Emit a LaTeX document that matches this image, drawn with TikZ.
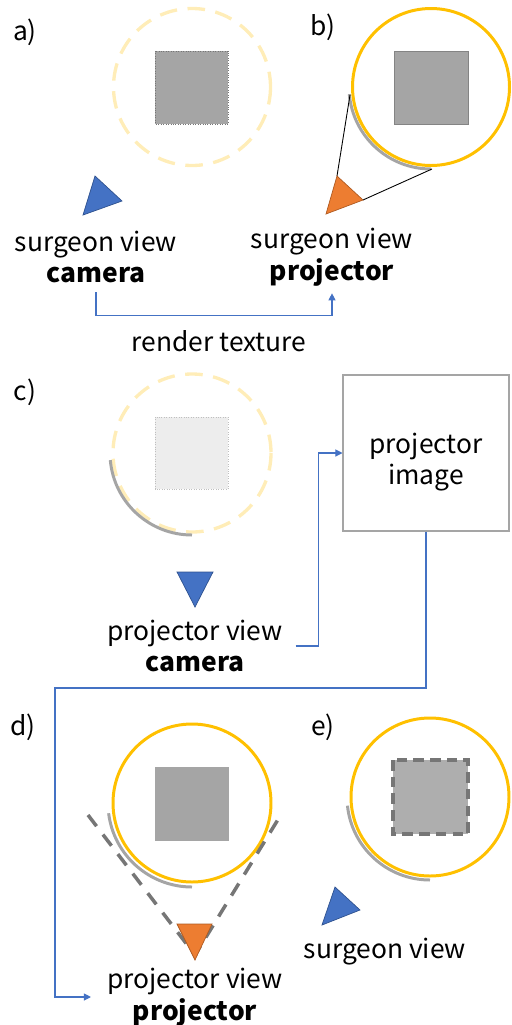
\documentclass[tikz,border=0pt]{standalone}
\usepackage{fontspec}
\setmainfont{Noto Sans CJK JP}
\usetikzlibrary{arrows.meta, positioning, calc}
\definecolor{ViewBlue}{HTML}{4472C4}
\definecolor{ViewBlueDark}{HTML}{2F528F}
\definecolor{ProjOrange}{HTML}{ED7D31}
\definecolor{ProjOrangeDark}{HTML}{AE5A21}
\definecolor{RingGold}{HTML}{FFC000}
\definecolor{ObjGray}{HTML}{A5A5A5}
\definecolor{EdgeGray}{HTML}{767676}

\begin{document}
\begin{tikzpicture}[x=0.02cm, y=-0.02cm,
    lbl/.style={font=\fontsize{15}{18}\selectfont, align=center, inner sep=2pt},
    tag/.style={font=\fontsize{15}{18}\selectfont, inner sep=0pt},
    ring/.style={draw=RingGold, line width=1.7pt},
    ghostring/.style={draw=RingGold!28, line width=1.9pt, dash pattern=on 10pt off 6pt},
    shadowarc/.style={draw=ObjGray, line width=1.7pt},
    obj/.style={fill=ObjGray},
    cam/.style={fill=ViewBlue, draw=ViewBlueDark, line width=0.4pt},
    proj/.style={fill=ProjOrange, draw=ProjOrangeDark, line width=0.4pt},
    frustum/.style={draw=EdgeGray, line width=2pt, dash pattern=on 8pt off 6pt},
    link/.style={draw=ViewBlue, line width=0.6pt, -{Triangle[length=4pt,width=4pt]}}]
\useasboundingbox (0,0) rectangle (511,1025);

% a) surgeon view camera
\node[tag] (tagA) at (25,32) {a)};
\draw[ghostring] (192,87) circle[radius=78.5];
\draw[obj, draw=EdgeGray, line width=0.4pt, densely dotted] (155,51) rectangle (228,124);
\path[cam] (83,215) -- (95,176) -- (122,201) -- cycle;
\node[lbl] (camA) at (96,257) {surgeon view\\\textbf{camera}};

% b) surgeon view projector
\node[tag] (tagB) at (323,27) {b)};
\draw[shadowarc] (431,87) ++(175:82) arc[start angle=175, end angle=90, radius=82];
\draw[ring] (431,87) circle[radius=78.5];
\draw[obj, draw=ObjGray!80!black, line width=0.5pt] (394,51) rectangle (468,124);
\draw[line width=0.5pt] (350,95) -- (337,176);
\draw[line width=0.5pt] (363,200) -- (432,169);
\path[proj] (326,214) -- (337,176) -- (363,200) -- cycle;
\node[lbl] (projB) at (332,257) {surgeon view\\\textbf{projector}};

\draw[link] ([yshift=-3pt]camA.south) -- ++(0,23) -| ([yshift=-2pt]projB.south);
\node[lbl] (rt) at (219,341) {render texture};

% c) projector view camera
\node[tag] (tagC) at (25,392) {c)};
\draw[ghostring] (192,453) circle[radius=79];
\draw[fill=black!7, draw=black!25, line width=0.4pt, densely dotted] (155,417) rectangle (228,489);
\draw[shadowarc] (192,453) ++(175:82) arc[start angle=175, end angle=90, radius=82];
\path[cam] (177,572) -- (213,572) -- (195,607) -- cycle;
\node[lbl] (camC) at (195,646) {projector view\\\textbf{camera}};

\node[lbl, draw=ObjGray, line width=0.6pt, minimum width=3.32cm, minimum height=3.12cm]
  (img) at (426,453) {\rule{0pt}{22pt}projector\\image};
\draw[link, shorten <=5pt] (camC.east) -| ($(img.west)+(-24,0)$) |- (img.west);

% d) projector view projector
\node[tag] (tagD) at (23,727) {d)};
\draw[shadowarc] (192,803) ++(173:84) arc[start angle=173, end angle=90, radius=84];
\draw[ring] (192,803) circle[radius=79];
\fill[ObjGray] (155,767) rectangle (229,841);
\draw[frustum] (88,815) -- (195,955) -- (282,813);
\path[proj] (177,924) -- (212,924) -- (195,960) -- cycle;
\node[lbl] (projD) at (195,997) {projector view\\\textbf{projector}};

\coordinate (turnD) at (55,688);
\draw[link, shorten >=7pt] (img.south) |- (turnD) |- (projD.west);

% e) surgeon view
\node[tag] (tagE) at (323,727) {e)};
\draw[shadowarc] (430,797) ++(174:83) arc[start angle=174, end angle=90, radius=83];
\draw[ring] (430,797) circle[radius=79];
\draw[fill=ObjGray!90, draw=EdgeGray, line width=2pt, dash pattern=on 6pt off 3.5pt] (393,760) rectangle (468,834);
\path[cam] (322,925) -- (335,887) -- (360,910) -- cycle;
\node[lbl] (surgE) at (385,952) {surgeon view};
\end{tikzpicture}
\end{document}
